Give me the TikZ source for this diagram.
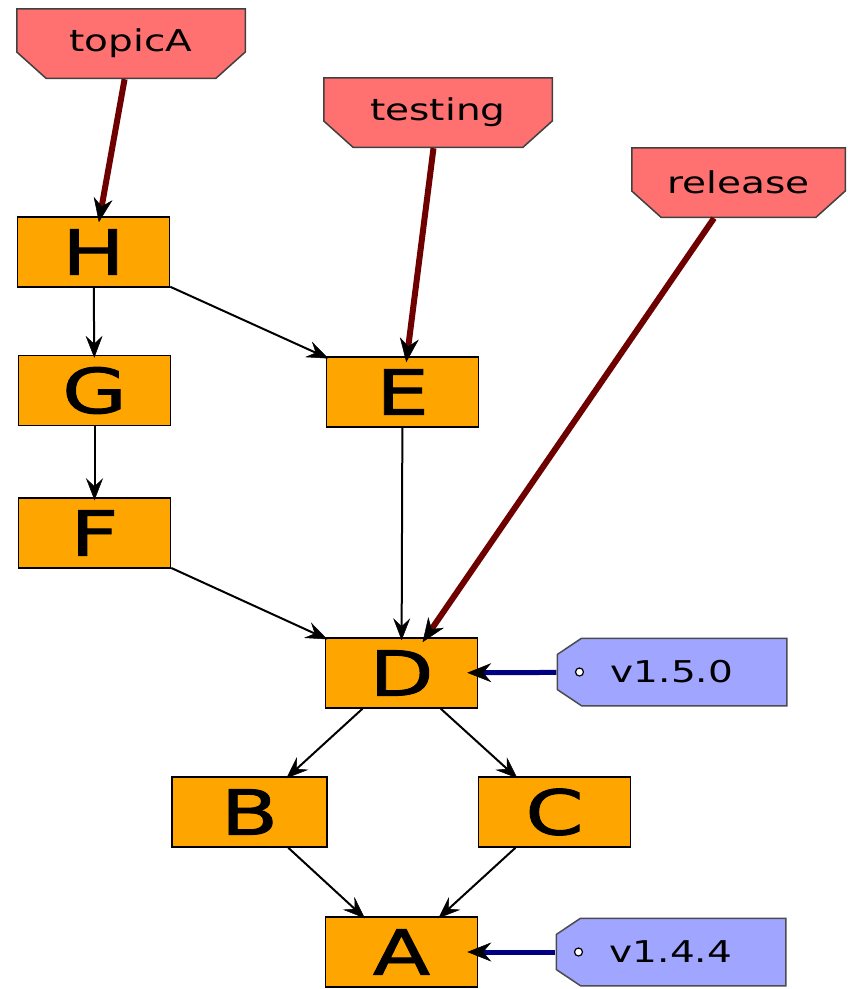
\documentclass[tikz,border=0pt]{standalone}
\usepackage{fontspec}
\newfontfamily\commitfont[FakeStretch=1.35, FakeBold=1.5]{DejaVu Sans}
\newfontfamily\labelfont[FakeStretch=1.3]{DejaVu Sans}
\usetikzlibrary{arrows.meta}
\definecolor{commitfill}{HTML}{FFA500}
\definecolor{branchfill}{HTML}{FF7070}
\definecolor{tagfill}{HTML}{A0A5FF}
\definecolor{branchline}{HTML}{6E0000}
\definecolor{tagline}{HTML}{000080}

\begin{document}
\begin{tikzpicture}[x=1pt, y=-1pt,
    commit/.style={draw, line width=1.5pt, fill=commitfill, minimum width=152pt, minimum height=70pt, inner sep=0pt,
        font=\commitfont\fontsize{62}{62}\selectfont},
    branch/.style={minimum height=71pt, inner sep=0pt, font=\labelfont\fontsize{30}{30}\selectfont,
        path picture={\draw[fill=branchfill, draw=black!75, line width=1.5pt]
            ([xshift=.75pt, yshift=-.75pt]path picture bounding box.north west)
            -- ([xshift=-.75pt, yshift=-.75pt]path picture bounding box.north east)
            -- ([xshift=-.75pt, yshift=27pt]path picture bounding box.south east)
            -- ([xshift=-30pt, yshift=.75pt]path picture bounding box.south east)
            -- ([xshift=30pt, yshift=.75pt]path picture bounding box.south west)
            -- ([xshift=.75pt, yshift=27pt]path picture bounding box.south west) -- cycle;}},
    version/.style={minimum width=231pt, minimum height=69pt, inner sep=0pt, font=\labelfont\fontsize{30}{30}\selectfont,
        path picture={\draw[fill=tagfill, draw=black!70, line width=1.5pt]
            ([xshift=25pt, yshift=-.75pt]path picture bounding box.north west)
            -- ([xshift=-.75pt, yshift=-.75pt]path picture bounding box.north east)
            -- ([xshift=-.75pt, yshift=.75pt]path picture bounding box.south east)
            -- ([xshift=25pt, yshift=.75pt]path picture bounding box.south west)
            -- ([xshift=.75pt, yshift=17pt]path picture bounding box.south west)
            -- ([xshift=.75pt, yshift=-17pt]path picture bounding box.north west) -- cycle;
            \draw[fill=white, line width=1.2pt] ([xshift=23pt]path picture bounding box.west) circle (4pt);}},
    parent/.style={-{Stealth[length=22pt, width=17pt, inset=8pt, line width=0.5pt]}, line width=2pt, shorten >=-3pt},
    brpointer/.style={-{Stealth[length=24pt, width=19pt, inset=8pt, line width=0.5pt, black]}, line width=6pt,
        draw=branchline, shorten >=-6pt},
    tgpointer/.style={-{Stealth[length=24pt, width=19pt, inset=8pt, line width=0.5pt, black]}, line width=5pt,
        draw=tagline, shorten >=-11pt}]
\useasboundingbox (0,0) rectangle (848,989);
% commits
\node[commit] (H) at (93.5,252) {H};
\node[commit] (G) at (94.5,390.5) {G};
\node[commit] (F) at (94.5,533) {F};
\node[commit] (E) at (402.5,392) {E};
\node[commit] (D) at (401.5,673) {D};
\node[commit, minimum width=155pt] (B) at (249.5,812) {B};
\node[commit] (C) at (554.5,812) {C};
\node[commit] (A) at (401.5,952) {A};
% branches and tags
\node[branch, minimum width=230pt] (topicA) at (131,43.5) {topicA};
\node[branch, minimum width=230pt] (testing) at (438,112.5) {testing};
\node[branch, minimum width=215pt] (release) at (738.5,182.5) {release};
\node[version] (v150) at (672,672) {v1.5.0};
\node[version] (v144) at (671,952) {v1.4.4};
% history
\draw[parent] (H) -- (G);
\draw[parent] (H) -- (E);
\draw[parent] (G) -- (F);
\draw[parent] (F) -- (D);
\draw[parent] (E) -- (D);
\draw[parent] (D) -- (B);
\draw[parent] (D) -- (C);
\draw[parent] (B) -- (A);
\draw[parent] (C) -- (A);
% pointers
\draw[brpointer] (topicA) -- (H);
\draw[brpointer] (testing) -- (E);
\draw[brpointer] (release) -- (D);
\draw[tgpointer] (v150) -- (D);
\draw[tgpointer] (v144) -- (A);
\end{tikzpicture}
\end{document}
